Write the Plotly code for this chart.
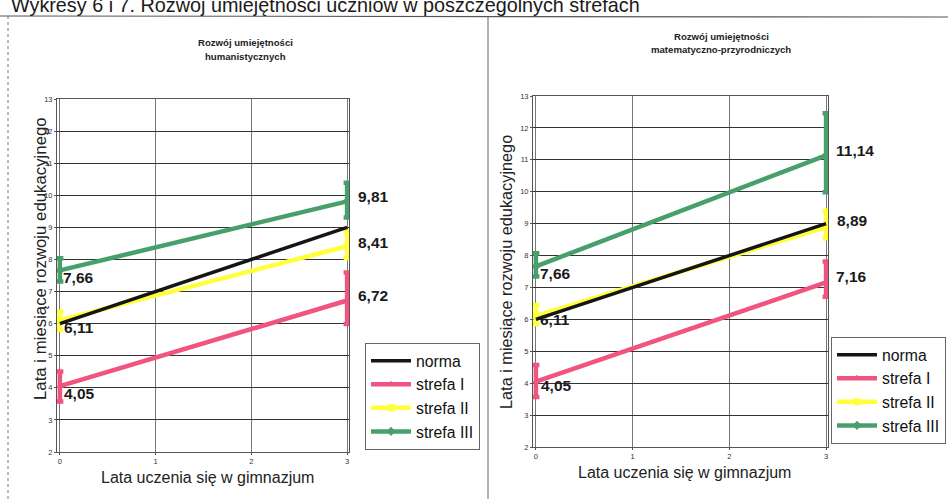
import plotly.graph_objects as go

W, H = 948, 499

# ---------------- data ----------------
years = [0, 3]
series_names = ["norma", "strefa I", "strefa II", "strefa III"]
colors = ["#151515", "#F0547F", "#FFFF3C", "#47A06C"]
symbols = ["circle", "triangle-up", "square", "diamond"]

hum_norma = [6, 9]
hum_s1 = [4.05, 6.72]
hum_s2 = [6.11, 8.41]
hum_s3 = [7.66, 9.81]
hum_s1_plus = [0.46, 0.87]
hum_s1_minus = [0.48, 0.73]
hum_s2_plus = [0.27, 0.46]
hum_s2_minus = [0.31, 0.37]
hum_s3_plus = [0.38, 0.58]
hum_s3_minus = [0.35, 0.50]

mat_norma = [6, 9]
mat_s1 = [4.05, 7.16]
mat_s2 = [6.11, 8.89]
mat_s3 = [7.66, 11.14]
mat_s1_plus = [0.52, 0.65]
mat_s1_minus = [0.48, 0.45]
mat_s2_plus = [0.34, 0.51]
mat_s2_minus = [0.26, 0.35]
mat_s3_plus = [0.41, 1.32]
mat_s3_minus = [0.32, 1.16]

main_title = "Wykresy 6 i 7. Rozwój umiejętności uczniów w poszczególnych strefach"
hum_title = ["Rozwój umiejętności", "humanistycznych"]
mat_title = ["Rozwój umiejętności", "matematyczno-przyrodniczych"]
y_title = "Lata i miesiące rozwoju edukacyjnego"
x_title = "Lata uczenia się w gimnazjum"
y_ticks = list(range(2, 14))
x_ticks = [0, 1, 2, 3]

FONT = "Liberation Sans, Arial, sans-serif"

fig = go.Figure()

panels = [
    dict(xa="x", ya="y", legend="legend",
         vals=[hum_norma, hum_s1, hum_s2, hum_s3],
         plus=[None, hum_s1_plus, hum_s2_plus, hum_s3_plus],
         minus=[None, hum_s1_minus, hum_s2_minus, hum_s3_minus]),
    dict(xa="x2", ya="y2", legend="legend2",
         vals=[mat_norma, mat_s1, mat_s2, mat_s3],
         plus=[None, mat_s1_plus, mat_s2_plus, mat_s3_plus],
         minus=[None, mat_s1_minus, mat_s2_minus, mat_s3_minus]),
]

draw_order = [2, 1, 3, 0]
for p in panels:
    for i in draw_order:
        err = None
        if p["plus"][i] is not None:
            err = dict(type="data", symmetric=False, array=p["plus"][i],
                       arrayminus=p["minus"][i], color=colors[i],
                       thickness=4.5, width=3.5)
        fig.add_trace(go.Scatter(
            x=years, y=p["vals"][i], xaxis=p["xa"], yaxis=p["ya"],
            mode="lines" if i == 0 else "lines+markers",
            name=series_names[i], legend=p["legend"], legendrank=i + 1,
            line=dict(color=colors[i], width=4.5 if i else 3.5),
            marker=dict(symbol=symbols[i], size=7, color=colors[i]),
            error_y=err, showlegend=True,
        ))

# data labels
label_specs = [
    ("x", "y", [hum_s1, hum_s2, hum_s3], [(2, -7), (2, -7), (1, -7)], [(9, 5), (9, 4), (9, 5)]),
    ("x2", "y2", [mat_s1, mat_s2, mat_s3], [(3, -4), (2, -4), (2, -7)], [(8, 6), (9, 7), (8, 5)]),
]
annotations = []
for xa, ya, series, sh0, sh3 in label_specs:
    for s, a0, a3 in zip(series, sh0, sh3):
        for k, (xv, yv) in enumerate(zip(years, s)):
            xs, ys = (a0 if k == 0 else a3)
            annotations.append(dict(
                x=xv, y=yv, xref=xa, yref=ya, xanchor="left", yanchor="middle",
                xshift=xs, yshift=ys, showarrow=False,
                text="<b>" + f"{yv:.2f}".replace(".", ",") + "</b>",
                font=dict(family=FONT, size=15.5, color="#1a1a1a")))

# main title (top slightly cut off, as in the scan)
annotations.append(dict(x=9 / W, y=1 - 5 / H, xref="paper", yref="paper", xanchor="left",
                        yanchor="middle", showarrow=False, text=main_title,
                        font=dict(family=FONT, size=19.8, color="#1a1a1a")))
# subplot titles
for (cx, y1, y2), lines in [((245, 43, 56), hum_title), ((721, 37, 50), mat_title)]:
    for yy, t in zip((y1, y2), lines):
        annotations.append(dict(x=cx / W, y=1 - yy / H, xref="paper", yref="paper",
                                xanchor="center", yanchor="middle", showarrow=False,
                                text="<b>" + t + "</b>",
                                font=dict(family=FONT, size=9.6, color="#222")))
# axis titles
for (cx, cy, sz) in [(40, 259, 16.8), (506, 272, 16.3)]:
    annotations.append(dict(x=cx / W, y=1 - cy / H, xref="paper", yref="paper",
                            xanchor="center", yanchor="middle", showarrow=False,
                            textangle=-90, text=y_title,
                            font=dict(family=FONT, size=sz, color="#222")))
for (cx, cy) in [(207, 477), (684, 472)]:
    annotations.append(dict(x=cx / W, y=1 - cy / H, xref="paper", yref="paper",
                            xanchor="center", yanchor="middle", showarrow=False,
                            text=x_title, font=dict(family=FONT, size=16, color="#222")))

shapes = [
    dict(type="line", xref="paper", yref="paper", x0=0, x1=1, y0=1 - 16 / H, y1=1 - 17 / H,
         line=dict(color="#555", width=1.2)),
    dict(type="line", xref="paper", yref="paper", x0=8 / W, x1=8 / W, y0=0, y1=1 - 16 / H,
         line=dict(color="#777", width=1, dash="dot")),
    dict(type="line", xref="paper", yref="paper", x0=488 / W, x1=488 / W, y0=0, y1=1 - 17 / H,
         line=dict(color="#666", width=1)),
]

axis_common = dict(showline=True, linecolor="#555", linewidth=1, mirror=True,
                   showgrid=True, zeroline=False, ticks="outside", ticklen=2,
                   tickcolor="#555", tickfont=dict(family=FONT, size=7.5, color="#333"),
                   fixedrange=True, automargin=False)

fig.update_layout(
    width=W, height=H, margin=dict(l=0, r=0, t=0, b=0, autoexpand=False),
    paper_bgcolor="white", plot_bgcolor="white",
    showlegend=True,
    xaxis=dict(domain=[57 / W, 349 / W], range=[-0.03, 3.02], tickvals=x_ticks,
               gridcolor="#777", gridwidth=1, anchor="y", **axis_common),
    yaxis=dict(domain=[1 - 452 / H, 1 - 99 / H], range=[2, 13], tickvals=y_ticks,
               gridcolor="#333", gridwidth=1, anchor="x", **axis_common),
    xaxis2=dict(domain=[533 / W, 828 / W], range=[-0.03, 3.02], tickvals=x_ticks,
                gridcolor="#777", gridwidth=1, anchor="y2", **axis_common),
    yaxis2=dict(domain=[1 - 447 / H, 1 - 96 / H], range=[2, 13], tickvals=y_ticks,
                gridcolor="#333", gridwidth=1, anchor="x2", **axis_common),
    legend=dict(x=365 / W, y=1 - 343 / H, xanchor="left", yanchor="top",
                bgcolor="white", bordercolor="#666", borderwidth=1,
                itemwidth=40, font=dict(family=FONT, size=15.8, color="#111"),
                traceorder="normal"),
    legend2=dict(x=946 / W, y=1 - 337 / H, xanchor="right", yanchor="top",
                 bgcolor="white", bordercolor="#666", borderwidth=1,
                 itemwidth=40, font=dict(family=FONT, size=15.8, color="#111"),
                 traceorder="normal"),
    annotations=annotations, shapes=shapes,
)

fig.write_html(
    "out.html",
    config={"displayModeBar": False},
    post_script="document.body.style.margin='0';document.body.style.overflow='hidden';",
)
